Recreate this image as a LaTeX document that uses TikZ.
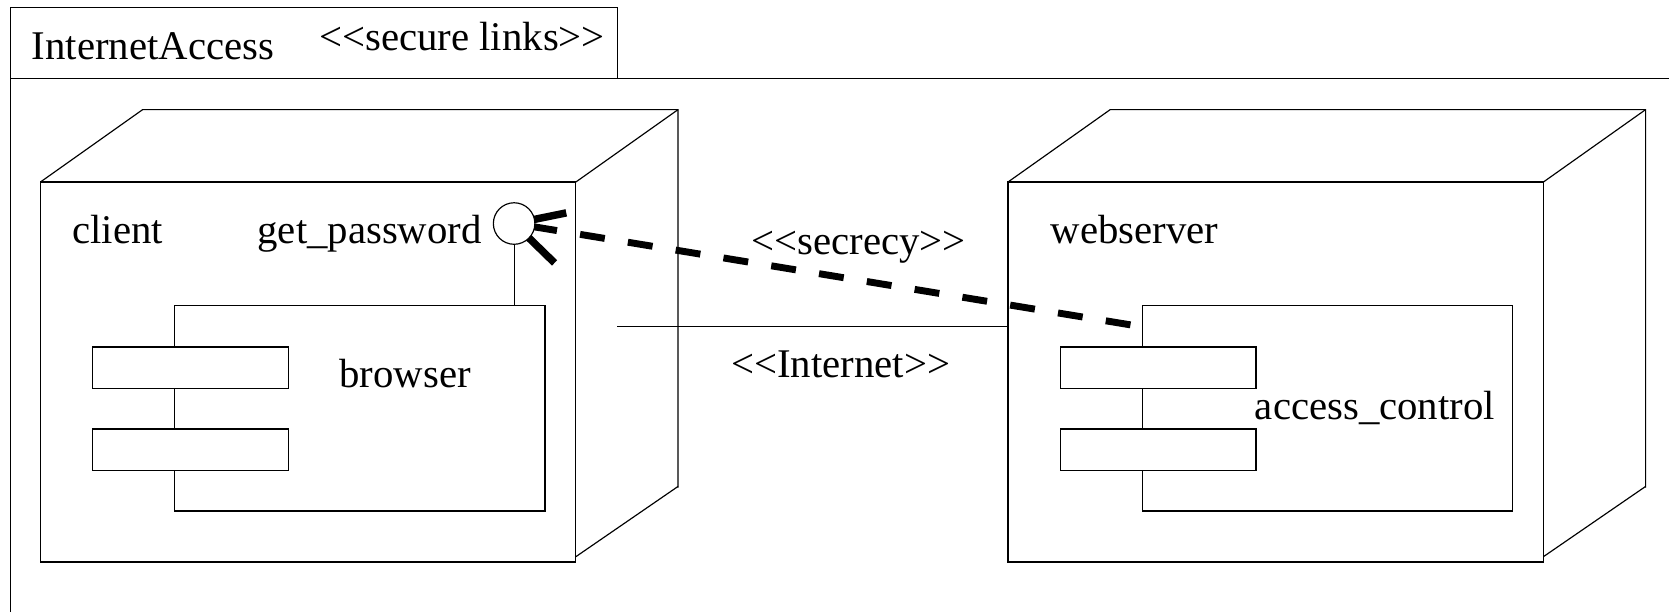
\documentclass[tikz,border=0pt]{standalone}
\usepackage{fontspec}
\setmainfont{Liberation Serif}
\usetikzlibrary{calc}
\newcommand{\uml}[1]{<{}<#1>{}>}
\begin{document}
\begin{tikzpicture}[x=1pt,y=-1pt,
  thin line/.style={line width=1.1pt, draw=black},
  face/.style={thin line, fill=white, inner sep=0pt, outer sep=0pt, anchor=north west},
  nodeface/.style={face, minimum width=503pt, minimum height=357pt},
  comp/.style={face, minimum width=348pt, minimum height=193pt},
  lbl/.style={inner sep=0pt, outer sep=0pt, anchor=base west, font=\fontsize{38.3}{46}\selectfont},
  secrecy/.style={line width=6.5pt, dash pattern=on 23.5pt off 22pt, dash phase=28.2pt},
  arm/.style={line width=7pt},
  lollipop/.style={circle, thin line, fill=white, minimum size=39pt, inner sep=0pt, outer sep=0pt}
]
\useasboundingbox (0,0) rectangle (1568,575);
% frame
\draw[thin line] (9.5,575) -- (9.5,7) -- (580,7) -- (580,74);
\draw[thin line] (9.5,74) -- (1568,74);
\node[lbl] (title) at (30,56) {InternetAccess};
\node[lbl] (titlest) at (300,47) {\uml{secure links}};

% nodes (front faces)
\node[nodeface] (client) at (38,171) {};
\node[nodeface] (webserver) at (947,171) {};
% 3D depth
\foreach \n in {client,webserver}{
  \draw[thin line] (\n.north west) -- ++(96,-68) coordinate (\n bl) -- ++(503,0) coordinate (\n br) -- ++(0,355);
  \draw[thin line] (\n.north east) -- (\n br);
  \draw[thin line] ([yshift=5pt]\n.south east) -- ++(96,-66);
}

% components
\node[comp] (browser) at (164,287) {};
\node[comp] (ac) at (1073,287) {};
\foreach \c in {browser,ac}{
  \node[face, minimum width=184pt, minimum height=39pt] (\c r1) at ([xshift=-77pt,yshift=-39pt]\c.north west) {};
  \node[face, minimum width=184pt, minimum height=39pt] (\c r2) at ([xshift=-77pt,yshift=-116pt]\c.north west) {};
}

% labels
\node[lbl] (clientlbl) at (68,229) {client};
\node[lbl] (pwlbl) at (242,229) {get\_password};
\node[lbl] (weblbl) at (987,229) {webserver};
\node[lbl] (browserlbl) at (319,364) {browser};
\node[lbl] (aclbl) at (1179,394) {access\_control};

% Internet link
\coordinate (clientside) at (580,307);
\draw[thin line] (clientside) -- (webserver.west |- clientside);
\node[lbl] (inetlbl) at (687,355) {\uml{Internet}};

% secrecy dependency
\coordinate (lc) at (483,210);
\draw[secrecy] (lc) -- ([yshift=-20pt]ac.north west);
\draw[arm] (lc) -- ++(49,-10);
\draw[arm] (lc) -- ++(38,37);
\node[lbl] (seclbl) at (706,239) {\uml{secrecy}};

% lollipop interface
\node[lollipop] (lolli) at (lc) {};
\draw[thin line] (lolli.south) -- (lolli.south |- browser.north);
\end{tikzpicture}
\end{document}
